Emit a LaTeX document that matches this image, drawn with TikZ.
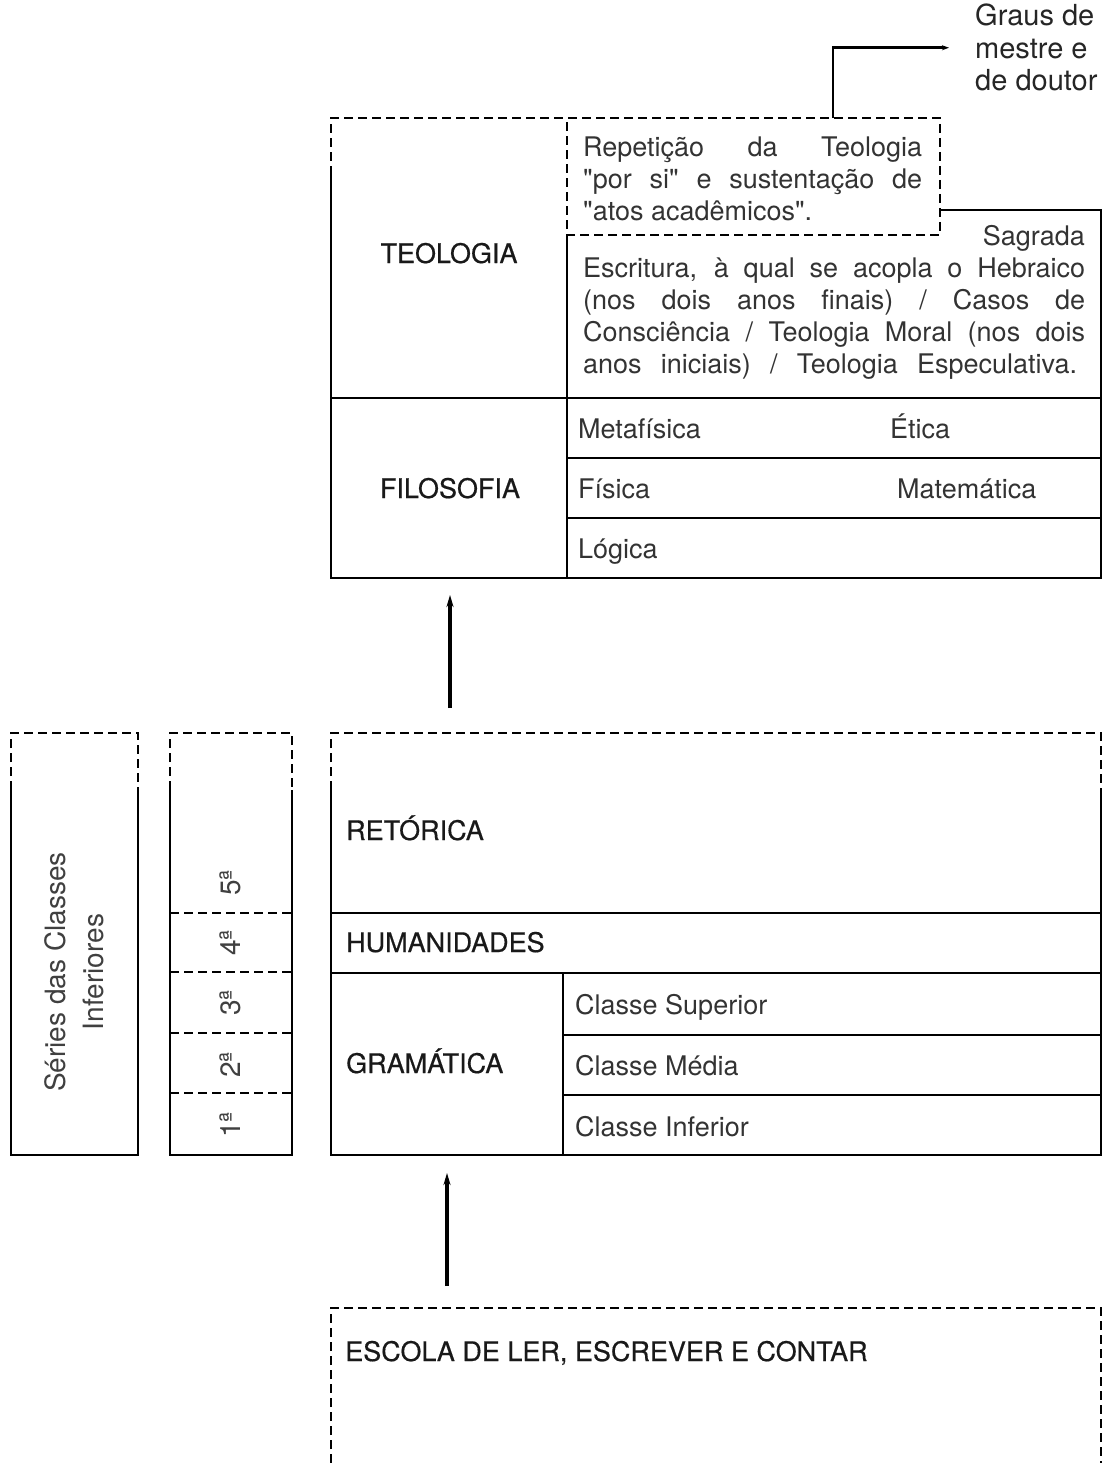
\documentclass[tikz,border=0pt]{standalone}
\usepackage{fontspec}
\setmainfont{TeX Gyre Heros}
\newfontfamily\headfont[FakeBold=0.5]{TeX Gyre Heros}
\usetikzlibrary{arrows.meta,positioning}

\begin{document}
\begin{tikzpicture}[
  x=1pt, y=-1pt,
  solidln/.style={line width=1.8pt},
  dashln/.style={line width=1.3pt, dash pattern=on 9pt off 5pt},
  arr/.style={-{Stealth[length=12pt,width=7pt]}, line width=3.2pt},
  head/.style={font=\headfont\fontsize{27}{32}\selectfont, text=black!90, inner sep=0pt},
  subj/.style={font=\fontsize{27}{32}\selectfont, text=black!80, inner sep=0pt, anchor=base west},
  para/.style={font=\fontsize{27}{32}\selectfont, text=black!80, inner sep=0pt, align=justify, anchor=north west},
  grade/.style={font=\fontsize{28}{32}\selectfont, text=black!75, inner sep=0pt, rotate=90},
  graus/.style={font=\fontsize{29}{32.5}\selectfont, text=black!85, inner sep=0pt, align=left}
]
\useasboundingbox (0,0) rectangle (1109,1463);

% Teologia e Filosofia
\draw[dashln] (331,175) -- (331,118) -- (940,118) -- (940,235) -- (567,235) -- (567,118);
\draw[solidln] (331,175) -- (331,578) -- (1101,578) -- (1101,210) -- (940,210);
\draw[solidln] (567,235) -- (567,578);
\draw[solidln] (331,398) -- (1101,398);
\draw[solidln] (567,458) -- (1101,458);
\draw[solidln] (567,518) -- (1101,518);

\node[graus, anchor=north west] (graus) at (975,4) {Graus de\\mestre e\\de doutor};
\coordinate (repTop) at (833,118);
\draw[arr, -{Stealth[length=7pt,width=5pt]}, line width=2.6pt] (repTop) |- ([xshift=-26pt]graus.west);

\node[para, text width=339pt] (rep) at (583,136.5)
  {\tolerance=10000\relax
   Repetição da Teologia\linebreak
   \textquotedbl por si\textquotedbl{} e sustentação de\linebreak
   \textquotedbl atos acadêmicos\textquotedbl.};
\node[subj, anchor=base east] (sagr) at (1085,245) {Sagrada};
\node[para, text width=502pt] (escr) at (583,257.5)
  {\tolerance=10000\relax
   Escritura, à qual se acopla o Hebraico\linebreak
   (nos dois anos finais) / Casos de\linebreak
   Consciência / Teologia Moral (nos dois\linebreak
   \makebox[494pt][s]{anos iniciais) / Teologia Especulativa.}};
\node[head, anchor=base] (teo) at (449,263) {TEOLOGIA};

\node[head, anchor=base] (filo) at (450,498) {FILOSOFIA};
\node[subj] (meta) at (578,438) {Metafísica};
\node[subj] (etica) at (890,438) {Ética};
\node[subj] (fis) at (578,498) {Física};
\node[subj] (mat) at (897,498) {Matemática};
\node[subj] (log) at (578,558) {Lógica};

% Classes inferiores
\draw[dashln] (331,790) -- (331,733) -- (1101,733) -- (1101,790);
\draw[solidln] (331,790) -- (331,1155) -- (1101,1155) -- (1101,790);
\draw[solidln] (331,913) -- (1101,913);
\draw[solidln] (331,973) -- (1101,973);
\draw[solidln] (563,973) -- (563,1155);
\draw[solidln] (563,1035) -- (1101,1035);
\draw[solidln] (563,1095) -- (1101,1095);

\node[head, anchor=base west] (ret) at (346,840) {RETÓRICA};
\node[head, anchor=base west] (hum) at (346,952) {HUMANIDADES};
\node[head, anchor=base west] (gram) at (346,1073) {GRAMÁTICA};
\node[subj] (sup) at (575,1014) {Classe Superior};
\node[subj] (med) at (575,1075) {Classe Média};
\node[subj] (inf) at (575,1136) {Classe Inferior};

\draw[dashln] (11,790) -- (11,733) -- (138,733) -- (138,790);
\draw[solidln] (11,790) -- (11,1155) -- (138,1155) -- (138,790);
\node[grade, align=center, font=\fontsize{28}{38}\selectfont] (series) at (74,972)
  {Séries das Classes\\Inferiores};

\draw[dashln] (170,790) -- (170,733) -- (292,733) -- (292,790);
\draw[solidln] (170,790) -- (170,1155) -- (292,1155) -- (292,790);
\foreach \y in {913,972,1033,1093}
  \draw[dashln] (170,\y) -- (292,\y);
\foreach \n/\y in {1/1125,2/1065,3/1003,4/943,5/883}
  \node[grade] (g\n) at (230,\y) {\n ª};

% Escola
\draw[dashln] (331,1463) -- (331,1308) -- (1101,1308) -- (1101,1463);
\node[head, anchor=base west] (escola) at (345,1361) {ESCOLA DE LER, ESCREVER E CONTAR};

\coordinate (filoFoot) at (450,595);
\coordinate (retHead) at (450,708);
\draw[arr] (retHead) -- (filoFoot);
\coordinate (gramFoot) at (447,1173);
\coordinate (escHead) at (447,1286);
\draw[arr] (escHead) -- (gramFoot);
\end{tikzpicture}
\end{document}
